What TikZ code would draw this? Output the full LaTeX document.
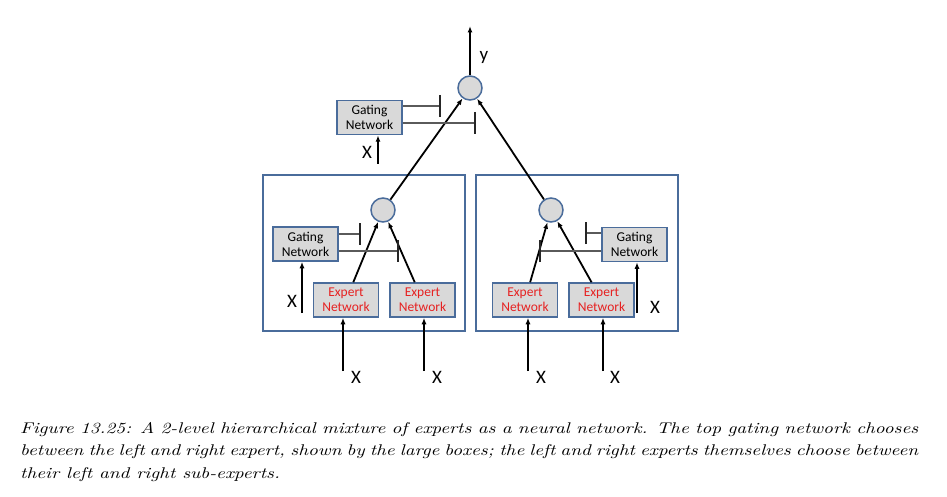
\documentclass[tikz,border=0pt]{standalone}
\usepackage{fontspec}
\usepackage{xcolor}
\usepackage{tikz}
\usetikzlibrary{arrows.meta,positioning,calc}
\newfontfamily\diagfont{Carlito}
\newfontfamily\capfont[FakeStretch=1.24, ItalicFont=lmroman10-italic.otf]{lmroman10-regular.otf}
\definecolor{boxblue}{HTML}{4A6C9B}
\definecolor{boxgray}{HTML}{D9D9D9}
\definecolor{gateline}{HTML}{5A5A5A}
\definecolor{expred}{HTML}{E62222}
\tikzset{
  netbox/.style={draw=boxblue, line width=1.5pt, fill=boxgray, align=center,
                 font=\diagfont\fontsize{13.5}{15}\selectfont, minimum width=65pt,
                 minimum height=34pt, inner sep=1pt},
  gatebox/.style={netbox},
  expertbox/.style={netbox, text=expred},
  mixnode/.style={circle, draw=boxblue, line width=1.5pt, fill=boxgray,
                  minimum size=24pt, inner sep=0pt},
  bigbox/.style={draw=boxblue, line width=1.8pt, minimum width=202pt,
                 minimum height=156pt, inner sep=0pt},
  flow/.style={-{Latex[length=6.5pt,width=5pt]}, line width=1.8pt},
  gate/.style={-{Bar[width=22pt,line width=2pt,color=black!85]}, gateline,
               line width=1.2pt},
  inlabel/.style={font=\diagfont\fontsize{19}{19}\selectfont, inner sep=0pt},
}
\begin{document}
\begin{tikzpicture}[x=1pt, y=-1pt, node distance=10pt]
  \useasboundingbox (0,0) rectangle (947,497);

  \node[bigbox] (leftexp) at (364,253) {};
  \node[bigbox] (rightexp) at (577,253) {};

  \node[mixnode] (topmix) at (470,88) {};
  \node[mixnode] (leftmix) at (383,210) {};
  \node[mixnode] (rightmix) at (551,210) {};

  \node[gatebox] (topgate) at (369.5,117.5) {Gating\\Network};
  \node[gatebox] (leftgate) at (305.5,244) {Gating\\Network};
  \node[gatebox] (rightgate) at (634.5,244.5) {Gating\\Network};

  \node[expertbox] (expa) at (346,300) {Expert\\Network};
  \node[expertbox, right=of expa] (expb) {Expert\\Network};
  \node[expertbox] (expc) at (525,300) {Expert\\Network};
  \node[expertbox, right=of expc] (expd) {Expert\\Network};

  \coordinate (yout) at (470,26);
  \node[inlabel] (ylab) at (484,57) {y};

  \coordinate (topbarA) at (441,106);
  \coordinate (topbarB) at (476,123);
  \coordinate (leftbarA) at (361,234);
  \coordinate (leftbarB) at (399,251);
  \coordinate (rightbarA) at (585,233);
  \coordinate (rightbarB) at (539,251);

  \coordinate (topgin) at (378,164);
  \coordinate (leftgin) at (302,313);
  \coordinate (rightgin) at (637,313);
  \node[inlabel] (topgx) at (367,152) {X};
  \node[inlabel] (leftgx) at (292,301) {X};
  \node[inlabel] (rightgx) at (655,307) {X};

  \coordinate (ina) at (343,371);
  \coordinate (inb) at (424,371);
  \coordinate (inc) at (528,371);
  \coordinate (ind) at (603,371);
  \node[inlabel] (xa) at (356,377) {X};
  \node[inlabel] (xb) at (437,377) {X};
  \node[inlabel] (xc) at (541,377) {X};
  \node[inlabel] (xd) at (615,377) {X};

  \draw[flow] (topmix) -- (yout);
  \draw[flow] (leftmix) -- (topmix);
  \draw[flow] (rightmix) -- (topmix);
  \draw[flow] (expa) -- (leftmix);
  \draw[flow] (expb) -- (leftmix);
  \draw[flow] (expc) -- (rightmix);
  \draw[flow] (expd) -- (rightmix);

  \draw[gate] (topgate.east |- topbarA) -- (topbarA);
  \draw[gate] (topgate.east |- topbarB) -- (topbarB);
  \draw[gate] (leftgate.east |- leftbarA) -- (leftbarA);
  \draw[gate] (leftgate.east |- leftbarB) -- (leftbarB);
  \draw[gate] (rightgate.west |- rightbarA) -- (rightbarA);
  \draw[gate] (rightgate.west |- rightbarB) -- (rightbarB);

  \draw[flow] (topgin) -- (topgin |- topgate.south);
  \draw[flow] (leftgin) -- (leftgin |- leftgate.south);
  \draw[flow] (rightgin) -- (rightgin |- rightgate.south);

  \draw[flow] (ina) -- (ina |- expa.south);
  \draw[flow] (inb) -- (inb |- expb.south);
  \draw[flow] (inc) -- (inc |- expc.south);
  \draw[flow] (ind) -- (ind |- expd.south);

  \node[anchor=north west, text width=898pt, align=justify, inner sep=0pt,
        font=\capfont\fontsize{15.5}{22.5}\selectfont\itshape] (caption) at (20,422)
    {Figure 13.25: A 2-level hierarchical mixture of experts as a neural network. The top gating network chooses\linebreak between the left and right expert, shown by the large boxes; the left and right experts themselves choose between\linebreak their left and right sub-experts.};
\end{tikzpicture}
\end{document}
